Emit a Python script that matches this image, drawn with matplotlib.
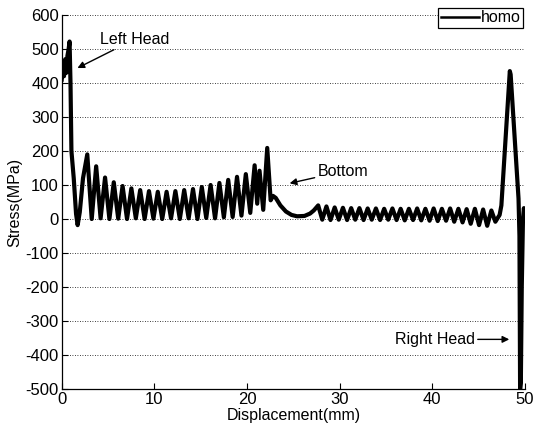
import matplotlib
matplotlib.use("Agg")
import matplotlib.pyplot as plt

plt.rcParams['font.family'] = ['Liberation Sans', 'DejaVu Sans']
plt.rcParams['axes.unicode_minus'] = False

# ---- data ----
disp_head_left = [0.0, 0.12, 0.25, 0.38, 0.5, 0.62, 0.75, 0.85, 0.95, 1.05, 1.3, 1.55, 1.72, 1.95, 2.3]
stress_head_left = [410, 455, 420, 470, 430, 480, 500, 522, 400, 200, 120, 15, -18, 20, 120]

disp_osc1 = [2.76, 3.24, 3.72, 4.2, 4.68, 5.15, 5.62, 6.1, 6.57, 7.05, 7.52, 8.0, 8.47,
             8.95, 9.42, 9.9, 10.37, 10.85, 11.32, 11.8, 12.27, 12.75, 13.22, 13.7,
             14.17, 14.65, 15.12, 15.6, 16.07, 16.55, 17.02, 17.5, 17.97, 18.45,
             18.92, 19.4, 19.87, 20.35, 20.82, 21.1, 21.35, 21.75, 22.18]
stress_osc1 = [190, 0, 155, 2, 122, 0, 108, 1, 97, 0, 90, 2, 85,
               0, 82, 1, 80, 0, 80, 2, 82, 0, 85, 2,
               88, 0, 94, 3, 100, 2, 106, 5, 115, 6,
               124, 10, 132, 18, 158, 45, 142, 27, 209]

disp_bottom = [22.55, 22.8, 23.1, 23.6, 24.2, 24.8, 25.4, 26.2, 26.8, 27.2]
stress_bottom = [55, 68, 62, 40, 22, 12, 8, 9, 16, 25]

disp_osc2 = [27.68, 28.12, 28.57, 29.01, 29.46, 29.9, 30.35, 30.8, 31.24, 31.68,
             32.13, 32.58, 33.02, 33.46, 33.91, 34.36, 34.8, 35.24, 35.69, 36.14,
             36.58, 37.02, 37.47, 37.92, 38.36, 38.8, 39.25, 39.7, 40.14, 40.58,
             41.03, 41.48, 41.92, 42.36, 42.81, 43.26, 43.7, 44.14, 44.59, 45.04,
             45.48, 45.92, 46.37, 46.8, 47.26]
stress_osc2 = [40, -2, 37, -3, 34, -2, 33, -3, 32, -2,
               32, -3, 31, -2, 31, -3, 30, -2, 31, -3,
               30, -4, 30, -3, 31, -4, 30, -5, 31, -6,
               30, -5, 31, -8, 30, -10, 29, -14, 30, -18,
               28, -20, 25, -8, 12]

disp_head_right = [47.45, 48.36, 48.45, 49.3, 49.4, 49.47, 49.55, 49.65, 49.78, 49.88, 49.95]
stress_head_right = [40, 435, 425, 60, -50, -500, -480, -200, 0, 32, 15]

x_ticks = [0, 10, 20, 30, 40, 50]
y_ticks = [-500, -400, -300, -200, -100, 0, 100, 200, 300, 400, 500, 600]

disp = disp_head_left + disp_osc1 + disp_bottom + disp_osc2 + disp_head_right
stress = stress_head_left + stress_osc1 + stress_bottom + stress_osc2 + stress_head_right

# ---- figure ----
fig = plt.figure(figsize=(5.36, 4.32), dpi=100)
ax = fig.add_axes([0.1151, 0.0995, 0.8644, 0.8658])

ax.plot(disp, stress, color='black', linewidth=3.0, label='homo', solid_joinstyle='round')

ax.set_xlim(0, 50)
ax.set_ylim(-500, 600)
ax.set_xticks(x_ticks)
ax.set_yticks(y_ticks)
ax.tick_params(direction='in', length=4, width=0.8, labelsize=12, pad=2)
ax.yaxis.grid(True, linestyle=(0, (1, 2)), color='black', linewidth=0.6)
ax.xaxis.grid(False)
for s in ['top', 'right']:
    ax.spines[s].set_visible(False)
for s in ['left', 'bottom']:
    ax.spines[s].set_linewidth(0.9)

ax.set_xlabel('Displacement(mm)', fontsize=11.5, labelpad=1)
ax.set_ylabel('Stress(MPa)', fontsize=11.5, labelpad=2)

# annotations
ax.annotate('Left Head', xy=(1.7, 444), xytext=(4.1, 528), fontsize=11.5,
            va='center', ha='left',
            arrowprops=dict(arrowstyle='-|>', color='black', lw=1.0,
                            shrinkA=0, shrinkB=0, mutation_scale=10))
ax.annotate('Bottom', xy=(24.6, 105), xytext=(27.6, 140), fontsize=11.5,
            va='center', ha='left',
            arrowprops=dict(arrowstyle='-|>', color='black', lw=1.0,
                            shrinkA=0, shrinkB=0, mutation_scale=10))
ax.annotate('Right Head', xy=(48.3, -354), xytext=(44.6, -354), fontsize=11.5,
            va='center', ha='right',
            arrowprops=dict(arrowstyle='-|>', color='black', lw=1.0,
                            shrinkA=0, shrinkB=0, mutation_scale=10))

leg = ax.legend(loc='upper right', bbox_to_anchor=(0.9757, 0.9815),
                bbox_transform=fig.transFigure, borderaxespad=0,
                fontsize=11.5, handlelength=2.4, handletextpad=0.1,
                borderpad=0.15, fancybox=False, framealpha=1)
leg.get_frame().set_edgecolor('black')
leg.get_frame().set_linewidth(0.9)
for ln in leg.get_lines():
    ln.set_linewidth(1.8)

fig.savefig('out.png', dpi=100)
